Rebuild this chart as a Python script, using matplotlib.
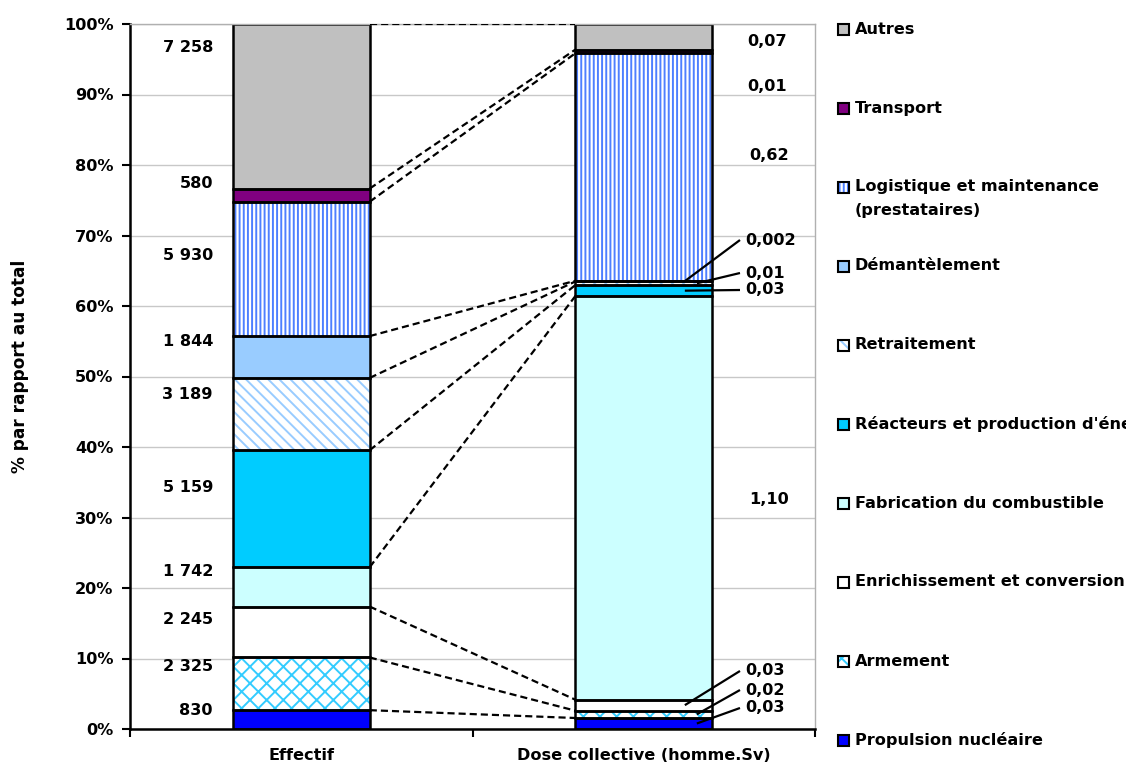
import matplotlib
matplotlib.use('Agg')
import matplotlib.pyplot as plt
from matplotlib.patches import Rectangle
import numpy as np

# ---------------- data ----------------
categories = ['Propulsion nucléaire', 'Armement', 'Enrichissement et conversion',
              'Fabrication du combustible', "Réacteurs et production d'énergie",
              'Retraitement', 'Démantèlement',
              'Logistique et maintenance\n(prestataires)', 'Transport', 'Autres']
effectif = [830, 2325, 2245, 1742, 5159, 3189, 1844, 5930, 580, 7258]
dose = [0.03, 0.02, 0.03, 1.10, 0.03, 0.01, 0.002, 0.62, 0.01, 0.07]
bar_names = ['Effectif', 'Dose collective (homme.Sv)']
y_ticks = list(range(0, 101, 10))

# ---------------- styles / layout ----------------
faces = ['#0000ff', 'white', 'white', '#ccffff', '#00ccff', 'white', '#99ccff', 'white', '#800080', '#c0c0c0']
hatches = [None, 'xx', None, None, None, '\\\\\\', None, '||||', None, None]
hatch_cols = [None, '#33ccff', None, None, None, '#99ccff', None, '#4d7fff', None, None]

# label y-positions (percent) for the Effectif labels (hand placed in the original)
eff_label_y = [2.6, 8.9, 15.6, 22.3, 34.2, 47.4, 54.9, 67.1, 77.4, 96.6]
# dose labels: (x, y, ha, leader_end_x or None)
dose_label_layout = [
    (1.296, 2.98, 'left', 1.155),
    (1.296, 5.53, 'left', 1.155),
    (1.296, 8.23, 'left', 1.120),
    (1.365, 32.5, 'center', None),
    (1.296, 62.27, 'left', 1.120),
    (1.296, 64.68, 'left', 1.155),
    (1.296, 69.36, 'left', 1.120),
    (1.365, 81.3, 'center', None),
    (1.360, 91.2, 'center', None),
    (1.360, 97.45, 'center', None),
]

FONT = 'DejaVu Sans'
FS = 11.6
plt.rcParams['font.family'] = FONT
plt.rcParams['font.weight'] = 'bold'
plt.rcParams['hatch.linewidth'] = 1.4

W, H = 1126, 767
fig = plt.figure(figsize=(W / 100, H / 100), dpi=100)
ax = fig.add_axes([130 / W, (H - 729) / H, 685 / W, 705 / H])

eff_pct = np.array(effectif) / sum(effectif) * 100
dose_pct = np.array(dose) / sum(dose) * 100
eff_base = np.concatenate([[0], np.cumsum(eff_pct)[:-1]])
dose_base = np.concatenate([[0], np.cumsum(dose_pct)[:-1]])

BW = 0.4
for xpos, pct, base in [(0, eff_pct, eff_base), (1, dose_pct, dose_base)]:
    for i in range(len(categories)):
        ax.bar(xpos, pct[i], bottom=base[i], width=BW, color=faces[i], edgecolor='none',
               linewidth=0, zorder=2)
        if hatches[i]:
            ax.bar(xpos, pct[i], bottom=base[i], width=BW, color='none',
                   edgecolor=hatch_cols[i], hatch=hatches[i], linewidth=0, zorder=2.1)
        ax.bar(xpos, pct[i], bottom=base[i], width=BW, fill=False, edgecolor='black',
               linewidth=1.8, zorder=2.2)

# dashed connectors between segment boundaries
eff_top = np.concatenate([[0], np.cumsum(eff_pct)])
dose_top = np.concatenate([[0], np.cumsum(dose_pct)])
for i in range(1, len(eff_top)):
    ax.plot([BW / 2, 1 - BW / 2], [eff_top[i], dose_top[i]], color='black',
            linestyle=(0, (3.2, 1.8)), linewidth=1.6, zorder=3)

# effectif labels
for i, v in enumerate(effectif):
    ax.text(-0.258, eff_label_y[i], f'{v:,}'.replace(',', ' '), ha='right', va='center',
            fontsize=FS, fontweight='bold')

# dose labels
for i, v in enumerate(dose):
    txt = (f'{v:.3f}' if v < 0.01 else f'{v:.2f}').replace('.', ',')
    x, y, ha, lx = dose_label_layout[i]
    ax.text(x, y, txt, ha=ha, va='center', fontsize=FS, fontweight='bold')
    if lx is not None:
        ax.plot([x - 0.015, lx], [y, dose_base[i] + dose_pct[i] / 2], color='black',
                linewidth=1.6, zorder=4, solid_capstyle='butt')

# axes styling
ax.set_xlim(-0.5, 1.5)
ax.set_ylim(0, 100)
ax.set_yticks(y_ticks)
ax.set_yticklabels([f'{t}%' for t in y_ticks], fontsize=FS, fontweight='bold')
ax.set_xticks([0, 1])
ax.set_xticklabels(bar_names, fontsize=FS, fontweight='bold')
ax.set_xticks([-0.5, 0.5, 1.5], minor=True)
ax.tick_params(axis='x', which='major', length=0, pad=14)
ax.tick_params(axis='x', which='minor', length=6, width=1.5, direction='out')
ax.tick_params(axis='y', length=6, width=1.5, pad=6)
ax.yaxis.grid(True, color='#c8c8c8', linewidth=1.0, zorder=0)
ax.set_axisbelow(True)
for s in ['left', 'bottom']:
    ax.spines[s].set_linewidth(1.8)
    ax.spines[s].set_color('black')
for s in ['top', 'right']:
    ax.spines[s].set_linewidth(1.0)
    ax.spines[s].set_color('#b0b0b0')
ax.set_ylabel('% par rapport au total', fontsize=FS + 0.6, fontweight='bold')
ax.yaxis.set_label_coords(-0.148, 0.515)

# legend (Excel-style, evenly spread on the right)
for k, i in enumerate(reversed(range(len(categories)))):
    ypx = 29 + 79 * k
    fx, fy = 838 / W, (H - ypx - 6) / H
    fw, fh = 11 / W, 11 / H
    fig.patches.append(Rectangle((fx, fy), fw, fh, transform=fig.transFigure,
                                 facecolor=faces[i], edgecolor='none', zorder=2))
    if hatches[i]:
        fig.patches.append(Rectangle((fx, fy), fw, fh, transform=fig.transFigure,
                                     facecolor='none', edgecolor=hatch_cols[i],
                                     hatch=hatches[i], linewidth=0, zorder=2.1))
    fig.patches.append(Rectangle((fx, fy), fw, fh, transform=fig.transFigure,
                                 fill=False, edgecolor='black', linewidth=1.5, zorder=2.2))
    for j, line in enumerate(categories[i].split('\n')):
        fig.text(855 / W, (H - ypx - 23 * j) / H, line, ha='left', va='center',
                 fontsize=FS, fontweight='bold')

fig.savefig('out.png', dpi=100)
